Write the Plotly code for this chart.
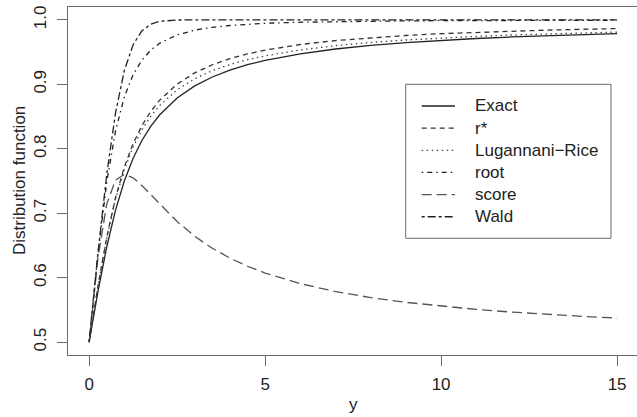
import plotly.graph_objects as go

# ---- data ----
y_grid = [0, 0.25, 0.5, 0.75, 1, 1.25, 1.5, 1.75, 2, 2.5, 3, 3.5, 4, 4.5, 5,
          6, 7, 8, 9, 10, 11, 12, 13, 14, 15]

exact = [0.5, 0.578, 0.6476, 0.7048, 0.75, 0.7852, 0.8128, 0.8348, 0.8524, 0.8789,
         0.8976, 0.9114, 0.9220, 0.9304, 0.9372, 0.9474, 0.9548, 0.9604, 0.9648,
         0.9683, 0.9711, 0.9735, 0.9756, 0.9773, 0.9788]

r_star = [0.5, 0.5864, 0.6625, 0.7240, 0.7717, 0.8081, 0.8360, 0.8578, 0.8751, 0.9004,
          0.9178, 0.9304, 0.9399, 0.9472, 0.9531, 0.9618, 0.9679, 0.9724, 0.9758,
          0.9786, 0.9808, 0.9826, 0.9841, 0.9854, 0.9865]

lug_rice = [0.5, 0.5863, 0.6615, 0.7217, 0.7678, 0.8028, 0.8295, 0.8504, 0.8670, 0.8915,
            0.9087, 0.9212, 0.9307, 0.9382, 0.9441, 0.9534, 0.9600, 0.9650, 0.9688,
            0.9719, 0.9744, 0.9766, 0.9783, 0.9799, 0.9811]

root = [0.5, 0.6362, 0.7479, 0.8276, 0.8805, 0.9150, 0.9376, 0.9530, 0.9636, 0.9767,
        0.9841, 0.9885, 0.9913, 0.9933, 0.9947, 0.9964, 0.9974, 0.9981, 0.9985,
        0.9988, 0.9990, 0.9992, 0.9993, 0.9994, 0.9995]

score = [0.5, 0.6304, 0.7142, 0.7514, 0.7602, 0.7549, 0.7430, 0.7288, 0.7142, 0.6871,
         0.6643, 0.6456, 0.6304, 0.6177, 0.6072, 0.5907, 0.5785, 0.5691, 0.5617,
         0.5557, 0.5507, 0.5466, 0.5431, 0.5400, 0.5374]

wald = [0.5, 0.6382, 0.7602, 0.8556, 0.9214, 0.9615, 0.9831, 0.9933, 0.9977, 0.9998,
        1.0, 1.0, 1.0, 1.0, 1.0, 1.0, 1.0, 1.0, 1.0, 1.0, 1.0, 1.0, 1.0, 1.0, 1.0]

series_names = ["Exact", "r*", "Lugannani\u2212Rice", "root", "score", "Wald"]
series_values = [exact, r_star, lug_rice, root, score, wald]

x_ticks = [0, 5, 10, 15]
y_ticks = [0.5, 0.6, 0.7, 0.8, 0.9, 1.0]

# ---- styles ----
dashes = ["solid", "5px,4px", "1.5px,3.5px", "1.5px,4px,5px,4px", "10px,5px", "3px,3px,8px,3px"]
colors = ["#222222", "#333333", "#444444", "#222222", "#555555", "#222222"]
FONT = "Liberation Sans, Arial, sans-serif"
TXT = "#222222"
AX = "#6a6a6a"

W, H = 637, 417
L, T, R, B = 68, 7, 0, 62
pw, ph = W - L - R, H - T - B

def px(xp):
    return (xp - L) / pw

def py(yp):
    return (H - B - yp) / ph

fig = go.Figure()
for name, vals, d, c in zip(series_names, series_values, dashes, colors):
    fig.add_trace(go.Scatter(x=y_grid, y=vals, mode="lines", name=name,
                             line=dict(color=c, width=1.3, dash=d),
                             showlegend=False, hoverinfo="skip"))

# manual R-style legend
shapes = [dict(type="rect", xref="paper", yref="paper",
               x0=px(405.7), x1=px(611), y0=py(238.3), y1=py(84.3),
               line=dict(color=AX, width=1), fillcolor="white", layer="above")]
annotations = []
row0, row_step = 106, 22.15
for i, (name, d, c) in enumerate(zip(series_names, dashes, colors)):
    yy = py(row0 + i * row_step)
    shapes.append(dict(type="line", xref="paper", yref="paper",
                       x0=px(421.7), x1=px(455), y0=yy, y1=yy,
                       line=dict(color=c, width=1.3, dash=d), layer="above"))
    annotations.append(dict(x=px(472.7), y=yy, xref="paper", yref="paper",
                            text=name, showarrow=False, xanchor="left", yanchor="middle",
                            font=dict(family=FONT, size=17, color=TXT)))

annotations.append(dict(x=px(353), y=py(404), xref="paper", yref="paper", text="y",
                        showarrow=False, xanchor="center", yanchor="middle",
                        font=dict(family=FONT, size=17, color=TXT)))
annotations.append(dict(x=px(19), y=py(181), xref="paper", yref="paper",
                        text="Distribution function", textangle=-90,
                        showarrow=False, xanchor="center", yanchor="middle",
                        font=dict(family=FONT, size=17, color=TXT)))

fig.update_layout(
    width=W, height=H,
    margin=dict(l=L, r=R, t=T, b=B, pad=0),
    paper_bgcolor="white", plot_bgcolor="white",
    shapes=shapes, annotations=annotations,
    font=dict(family=FONT, size=17, color=TXT),
    xaxis=dict(range=[-0.6, -0.6 + pw / 35.2], tickvals=x_ticks,
               ticktext=[str(v) for v in x_ticks],
               showgrid=False, zeroline=False, showline=True, linecolor=AX,
               linewidth=1.3, mirror=True, ticks="outside", ticklen=10,
               tickcolor=AX, tickwidth=1, ticklabelstandoff=3,
               tickfont=dict(size=17, color=TXT)),
    yaxis=dict(range=[0.48, 1.02], tickvals=y_ticks,
               ticktext=[f"{v:.1f}" for v in y_ticks],
               showgrid=False, zeroline=False, showline=True, linecolor=AX,
               linewidth=1.3, mirror=False, ticks="outside", ticklen=10,
               tickcolor=AX, tickwidth=1, tickangle=-90, ticklabelstandoff=4,
               tickfont=dict(size=17, color=TXT)),
)

fig.write_html("out.html", config={"displayModeBar": False},
               post_script="document.body.style.margin='0';document.body.style.overflow='hidden';")
